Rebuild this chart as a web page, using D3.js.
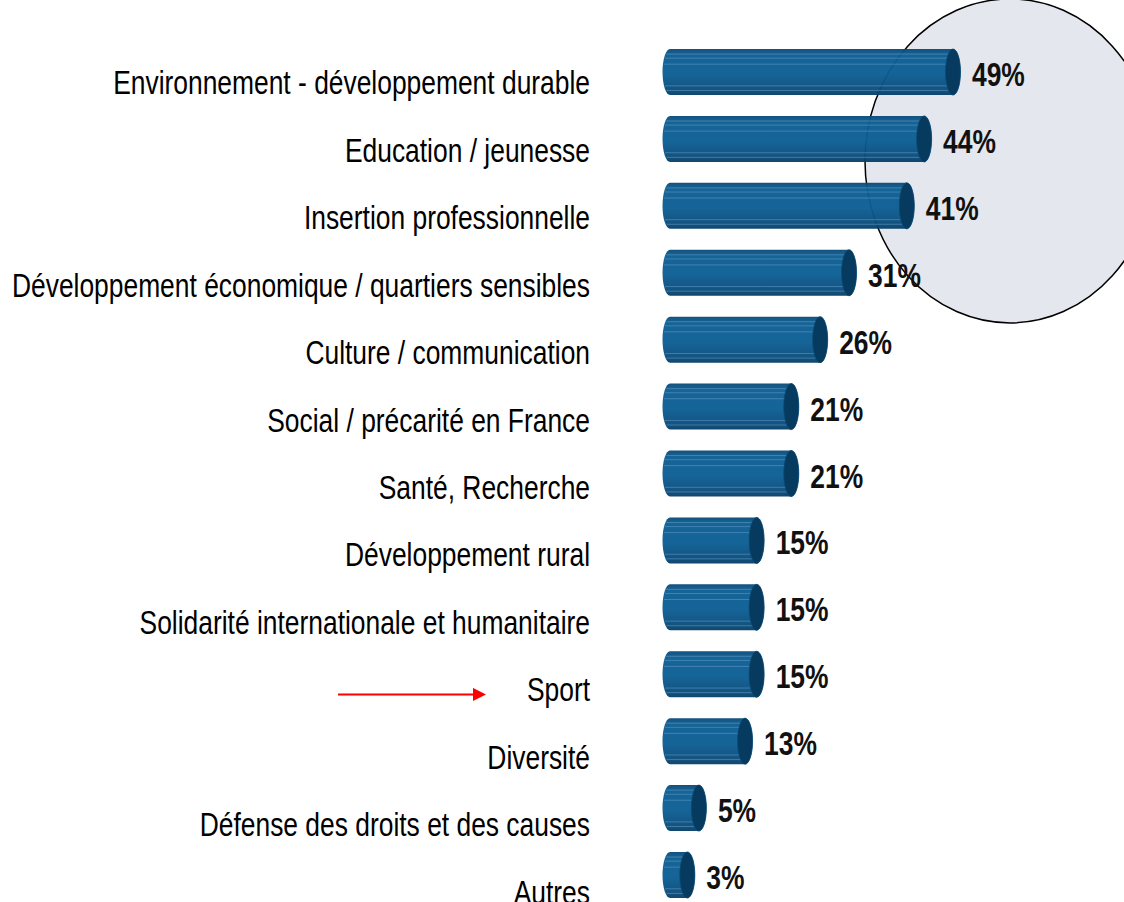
<!DOCTYPE html>
<html>
<head>
<meta charset="utf-8">
<script src="https://cdn.jsdelivr.net/npm/d3@7"></script>
<style>
  html, body { margin: 0; padding: 0; background: #fff; }
  svg { display: block; }
  .cat { font-family: "Liberation Sans", Arial, sans-serif; font-size: 33px; fill: #000; }
  .val { font-family: "Liberation Sans", Arial, sans-serif; font-weight: bold; font-size: 33px; fill: #111; }
</style>
</head>
<body>
<div id="chart"></div>
<script>
// categories, top to bottom
const categories = [
    'Environnement - développement durable',
    'Education / jeunesse',
    'Insertion professionnelle',
    'Développement économique / quartiers sensibles',
    'Culture / communication',
    'Social / précarité en France',
    'Santé, Recherche',
    'Développement rural',
    'Solidarité internationale et humanitaire',
    'Sport',
    'Diversité',
    'Défense des droits et des causes',
    'Autres',
];
const values = [49, 44, 41, 31, 26, 21, 21, 15, 15, 15, 13, 5, 3];
const highlighted = 'Sport';

const W = 1124;
const H = 902;
const squeeze = 0.8; // the whole picture is narrowed horizontally

const data = categories.map((c, i) => ({ key: c, value: values[i] }));

const x = d3.scaleLinear()
    .domain([0, 49])
    .range([670, 953]);

const y = d3.scaleBand()
    .domain(categories)
    .range([49, 898])
    .paddingInner(0.312)
    .paddingOuter(0);

// labels run on a slightly looser grid than the bars
const yl = y.copy().range([49, 905]);

const bh = y.bandwidth();
const rx = 7.5;
const ry = bh / 2;

const svg = d3.select('#chart').append('svg')
    .attr('width', W)
    .attr('height', H);

const defs = svg.append('defs');
const grad = defs.append('linearGradient')
    .attr('id', 'barGrad')
    .attr('x1', 0).attr('y1', 0).attr('x2', 0).attr('y2', 1);
grad.append('stop').attr('offset', '0%').attr('stop-color', '#0b4a78');
grad.append('stop').attr('offset', '12%').attr('stop-color', '#0d5d92');
grad.append('stop').attr('offset', '55%').attr('stop-color', '#0c5e94');
grad.append('stop').attr('offset', '88%').attr('stop-color', '#0a4c7b');
grad.append('stop').attr('offset', '100%').attr('stop-color', '#083f66');

// highlight ellipse around the top three
const top1 = y(categories[1]) + bh / 2;
svg.append('ellipse')
    .attr('cx', x(values[0]) + 57)
    .attr('cy', top1 + 22)
    .attr('rx', 145)
    .attr('ry', 162)
    .attr('fill', '#e4e7ed')
    .attr('stroke', '#000')
    .attr('stroke-width', 1.5);

// category labels
svg.append('g').selectAll('text')
    .data(data)
    .join('text')
    .attr('class', 'cat')
    .attr('transform', (d) => `translate(590,${yl(d.key) + yl.bandwidth() / 2 + 22}) scale(${squeeze},1)`)
    .attr('text-anchor', 'end')
    .text((d) => d.key);

// bars as cylinders
const bars = svg.append('g').selectAll('g.bar')
    .data(data)
    .join('g')
    .attr('class', 'bar')
    .attr('transform', (d) => `translate(0,${y(d.key)})`);

bars.append('path')
    .attr('d', (d) => {
        const x0 = x(0);
        const x1 = x(d.value);
        return `M${x0},0 L${x1},0 A${rx},${ry} 0 0 1 ${x1},${bh} L${x0},${bh} A${rx},${ry} 0 0 1 ${x0},0 Z`;
    })
    .attr('fill', 'url(#barGrad)')
    .attr('fill-opacity', 0.96);

// thin light stripes along the bar
const stripes = [0.11, 0.2, 0.33, 0.8, 0.9];
bars.selectAll('line')
    .data((d) => stripes.map((s, j) => ({ s, j, v: d.value })))
    .join('line')
    .attr('x1', (s) => x(0) - rx * Math.sqrt(1 - (2 * s.s - 1) ** 2) + 1)
    .attr('x2', (s) => x(s.v) - (s.j % 2 ? 3 : 0))
    .attr('y1', (s) => s.s * bh)
    .attr('y2', (s) => s.s * bh)
    .attr('stroke', '#5b98c4')
    .attr('stroke-opacity', 0.6)
    .attr('stroke-width', 1);

bars.append('ellipse')
    .attr('cx', (d) => x(d.value))
    .attr('cy', ry)
    .attr('rx', rx)
    .attr('ry', ry)
    .attr('fill', '#063a5e')
    .attr('stroke', '#0a4a75')
    .attr('stroke-width', 0.8);

// value labels
svg.append('g').selectAll('text')
    .data(data)
    .join('text')
    .attr('class', 'val')
    .attr('transform', (d) => `translate(${x(d.value) + 19},${y(d.key) + bh / 2 + 14}) scale(${squeeze},1)`)
    .text((d) => `${d.value}%`);

// red arrow pointing at the highlighted category
const ay = yl(highlighted) + yl.bandwidth() / 2 + 15;
defs.append('marker')
    .attr('id', 'arrowHead')
    .attr('viewBox', '0 0 10 10')
    .attr('refX', 0).attr('refY', 5)
    .attr('markerWidth', 8).attr('markerHeight', 6.5)
    .attr('markerUnits', 'strokeWidth')
    .attr('orient', 'auto')
    .append('path')
    .attr('d', 'M0,0 L10,5 L0,10 Z')
    .attr('fill', '#ff0000');

svg.append('line')
    .attr('x1', 338)
    .attr('x2', 473)
    .attr('y1', ay)
    .attr('y2', ay)
    .attr('stroke', '#ff0000')
    .attr('stroke-width', 2)
    .attr('marker-end', 'url(#arrowHead)');
</script>
</body>
</html>
